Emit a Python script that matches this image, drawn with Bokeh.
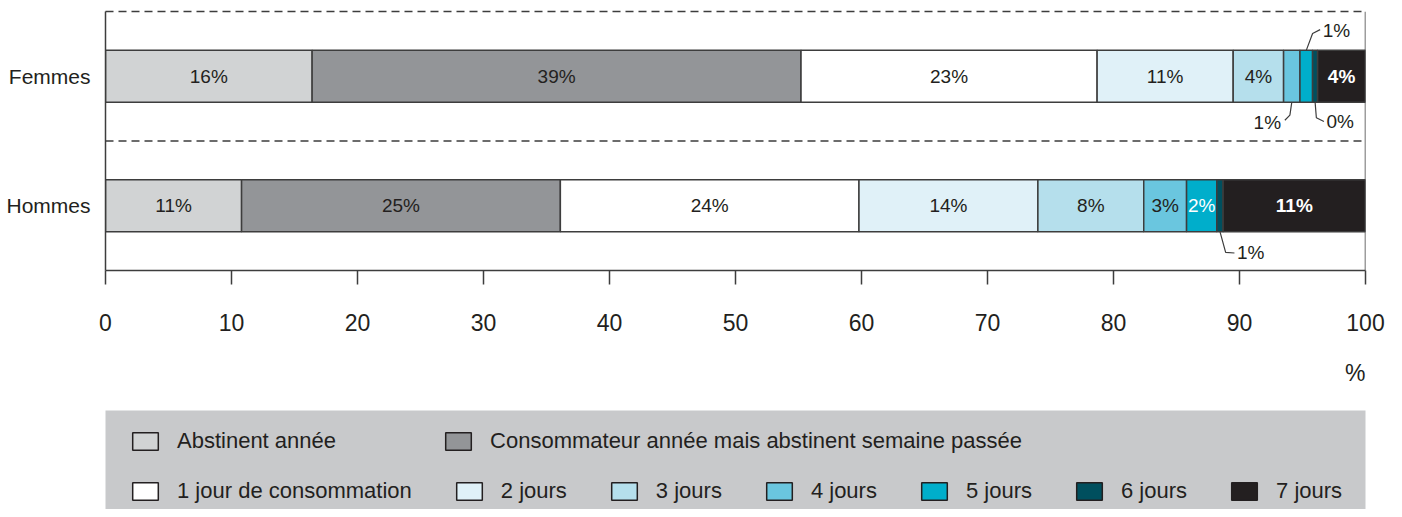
from bokeh.plotting import figure
from bokeh.models import (ColumnDataSource, FactorRange, Range1d, Span, FixedTicker,
                          Legend, LegendItem, Title, LinearAxis)
from bokeh.layouts import column
from bokeh.embed import file_html
from bokeh.resources import INLINE
from bokeh.core.properties import value

FONT = "Liberation Sans"
DARK = "#231f20"
LINE = "#3d3d3d"

# ---------------- data ----------------
categories = ["Hommes", "Femmes"]
series = ["Abstinent année", "Consommateur année mais abstinent semaine passée",
          "1 jour de consommation", "2 jours", "3 jours", "4 jours", "5 jours",
          "6 jours", "7 jours"]
colors = ["#d1d3d4", "#939598", "#ffffff", "#e0f1f8", "#b5dfec", "#6ac6df",
          "#00aecb", "#004f5e", "#231f20"]
femmes = [16.4, 38.8, 23.5, 10.8, 4.0, 1.3, 1.0, 0.4, 3.8]
hommes = [10.8, 25.3, 23.7, 14.2, 8.4, 3.4, 2.4, 0.5, 11.3]
femmes_labels = ["16%", "39%", "23%", "11%", "4%", "1%", "1%", "0%", "4%"]
hommes_labels = ["11%", "25%", "24%", "14%", "8%", "3%", "2%", "1%", "11%"]
x_ticks = [0, 10, 20, 30, 40, 50, 60, 70, 80, 90, 100]
unit_label = "%"

values = {"Hommes": hommes, "Femmes": femmes}
labels = {"Hommes": hommes_labels, "Femmes": femmes_labels}

# callouts: (category, series index) -> direction, bend offset, end offset, label offset, align
callouts = {
    ("Femmes", 5): (-1, (-0.15, 0.10), (-0.55, 0.14), (-0.85, 0.155), "right"),
    ("Femmes", 6): (1, (0.5, 0.13), (1.1, 0.16), (1.3, 0.155), "left"),
    ("Femmes", 7): (-1, (0.1, 0.12), (0.7, 0.15), (0.9, 0.147), "left"),
    ("Hommes", 7): (-1, (0.45, 0.16), (1.15, 0.165), (1.35, 0.163), "left"),
}

BAR_H = 0.4

# ---------------- main chart ----------------
keys = ["s%d" % i for i in range(len(series))]
src = {"cat": categories}
for i, k in enumerate(keys):
    src[k] = [values[c][i] for c in categories]
source = ColumnDataSource(src)

p = figure(width=1386, height=410, x_range=Range1d(0, 100),
           y_range=FactorRange(factors=categories, range_padding=0, factor_padding=0),
           output_backend="svg", toolbar_location=None,
           min_border_left=105, min_border_right=21, min_border_top=11, min_border_bottom=140)
p.outline_line_color = None
p.xgrid.visible = False
p.ygrid.visible = False

p.hbar_stack(keys, y="cat", height=BAR_H, fill_color=colors, line_color=LINE,
             line_width=1.5, source=source)

# in-bar labels and callouts
cat_y = {c: i + 0.5 for i, c in enumerate(categories)}
tx, ty, tt, tc, ts = [], [], [], [], []
cx, cy, ct, ca = [], [], [], []
lx, ly = [], []
for c in categories:
    cum = 0.0
    for i, v in enumerate(values[c]):
        xc = cum + v / 2.0
        cum += v
        key = (c, i)
        if key in callouts:
            d, (bx, by), (ex, ey), (lbx, lby), al = callouts[key]
            ye = cat_y[c] + d * BAR_H / 2.0
            lx.append([xc, xc + bx, xc + ex])
            ly.append([ye, ye + d * by, ye + d * ey])
            cx.append(xc + lbx)
            cy.append(ye + d * lby)
            ct.append(labels[c][i])
            ca.append(al)
        else:
            tx.append(xc)
            ty.append(cat_y[c])
            tt.append(labels[c][i])
            tc.append("white" if i in (6, 8) else DARK)
            ts.append("bold" if i == 8 else "normal")

p.text(x="x", y="y", text="t", text_color="c", text_font_style="s",
       source=ColumnDataSource(dict(x=tx, y=ty, t=tt, c=tc, s=ts)),
       text_align="center", text_baseline="middle",
       text_font=value(FONT), text_font_size="19px")
p.multi_line(xs=lx, ys=ly, line_color=LINE, line_width=1.2)
p.text(x="x", y="y", text="t", text_align="a",
       source=ColumnDataSource(dict(x=cx, y=cy, t=ct, a=ca)),
       text_baseline="middle", text_color=DARK,
       text_font=value(FONT), text_font_size="19px")

# frame lines
top_axis = LinearAxis(ticker=FixedTicker(ticks=[]), axis_line_color=LINE, axis_line_width=1.5,
                      axis_line_dash="8 5", major_tick_line_color=None,
                      minor_tick_line_color=None, major_label_text_font_size="0px")
p.add_layout(top_axis, "above")
p.add_layout(Span(location=1, dimension="width", line_color=LINE, line_width=1.5, line_dash="8 5"))
p.add_layout(Span(location=100, dimension="height", line_color=LINE, line_width=1.5))

# axes
xa = p.below[0]
xa.ticker = FixedTicker(ticks=x_ticks)
xa.major_tick_out = 14
xa.major_tick_in = 0
xa.minor_tick_line_color = None
xa.axis_line_color = LINE
xa.axis_line_width = 1.5
xa.major_tick_line_color = LINE
xa.major_tick_line_width = 1.5
xa.major_label_text_font = FONT
xa.major_label_text_font_size = "23px"
xa.major_label_text_color = DARK
xa.major_label_standoff = 29

p.yaxis.major_tick_line_color = None
p.yaxis.minor_tick_line_color = None
p.yaxis.axis_line_color = LINE
p.yaxis.axis_line_width = 1.5
p.yaxis.major_label_text_font = FONT
p.yaxis.major_label_text_font_size = "21px"
p.yaxis.major_label_text_color = DARK
p.yaxis.major_label_standoff = 9

# unit label under the end of the axis
p.add_layout(Title(text=unit_label, align="right", text_font=FONT, text_font_size="23px",
                   text_font_style="normal", text_color=DARK, standoff=49), "below")

# ---------------- legend panel ----------------
p2 = figure(width=1386, height=99, x_range=Range1d(0, 1), y_range=Range1d(0, 1),
            output_backend="svg", toolbar_location=None,
            x_axis_location=None, y_axis_location=None,
            min_border=0, min_border_left=105, min_border_right=21,
            min_border_top=0, min_border_bottom=0)
p2.background_fill_color = "#c8c9cb"
p2.border_fill_color = "white"
p2.outline_line_color = None
p2.xgrid.visible = False
p2.ygrid.visible = False

rends = [p2.rect(x=[5], y=[5], width=0.1, height=0.1, fill_color=col, line_color=DARK,
                 line_width=1.5) for col in colors]


def make_legend(idx, loc, spacing):
    return Legend(items=[LegendItem(label=series[i], renderers=[rends[i]]) for i in idx],
                  orientation="horizontal", location=loc, glyph_width=32, glyph_height=22,
                  label_standoff=16, spacing=spacing, padding=0, margin=0,
                  background_fill_alpha=0, border_line_color=None,
                  label_text_font=FONT, label_text_font_size="22px",
                  label_text_color=DARK)


p2.add_layout(make_legend([0, 1], (24, 55), 106))
p2.add_layout(make_legend([2, 3, 4, 5, 6, 7, 8], (24, 5), 41))

open("out.html", "w").write(file_html(column(p, p2), INLINE))
